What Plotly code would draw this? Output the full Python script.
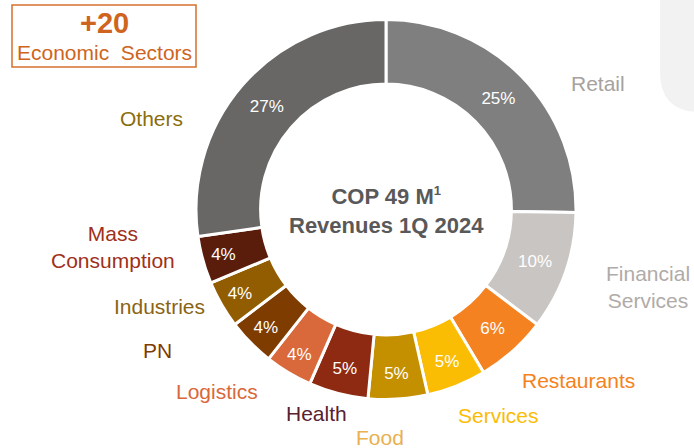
import plotly.graph_objects as go

categories = ["Retail", "Financial Services", "Restaurants", "Services", "Food", "Health",
              "Logistics", "PN", "Industries", "Mass Consumption", "Others"]
shares = [25, 10, 6, 5, 5, 5, 4, 4, 4, 4, 27]
slice_colors = ["#7f7f7f", "#c9c5c2", "#f58220", "#fbbc04", "#c49000", "#8f2a12",
                "#d9683a", "#7f3c00", "#925d00", "#5a1d0b", "#686766"]
label_text = ["Retail", "Financial<br>Services", "Restaurants", "Services", "Food", "Health",
              "Logistics", "PN", "Industries", "Mass<br>Consumption", "Others"]
label_colors = ["#a5a2a0", "#b0aba8", "#f58220", "#fbbc04", "#e9b04f", "#5a2030",
                "#d9683a", "#7f3c00", "#8a6414", "#a0301a", "#8a6d0b"]
label_xy = [(598, 83), (648, 287), (578, 380), (499, 415), (380, 437), (316, 413),
            (217, 391), (157, 350), (159, 306), (113, 247), (151, 118)]

W, H = 694, 448
cx, cy, r = 386, 209.5, 190

fig = go.Figure()
fig.add_trace(go.Pie(
    labels=categories, values=shares, sort=False, direction="clockwise", rotation=0,
    hole=0.66,
    text=[f"{v}%" for v in shares], textinfo="text", textposition="inside",
    insidetextorientation="horizontal",
    textfont=dict(family="Liberation Sans, Arial", size=17, color="white"),
    marker=dict(colors=slice_colors, line=dict(color="white", width=3)),
    domain=dict(x=[(cx - r) / W, (cx + r) / W], y=[1 - (cy + r) / H, 1 - (cy - r) / H]),
    showlegend=False, hoverinfo="label+text",
))

for t, c, (x, y) in zip(label_text, label_colors, label_xy):
    fig.add_annotation(x=x / W, y=1 - y / H, xref="paper", yref="paper", text=t,
                       showarrow=False, font=dict(family="Liberation Sans, Arial", size=21, color=c),
                       xanchor="center", yanchor="middle", align="center")

fig.add_annotation(x=cx / W, y=1 - 211 / H, xref="paper", yref="paper",
                   text="<b>COP 49 M<sup><span style='font-size:13px'>1</span></sup></b><br><b>Revenues 1Q 2024</b>",
                   showarrow=False, font=dict(family="Liberation Sans, Arial", size=22, color="#595959"),
                   xanchor="center", yanchor="middle", align="center")

# top-left box
fig.add_shape(type="rect", xref="paper", yref="paper",
              x0=12 / W, x1=196 / W, y0=1 - 67 / H, y1=1 - 5 / H,
              line=dict(color="#d5702c", width=1.5), fillcolor="rgba(0,0,0,0)")
fig.add_annotation(x=104 / W, y=1 - 23 / H, xref="paper", yref="paper", text="<b>+20</b>",
                   showarrow=False, font=dict(family="Liberation Sans, Arial", size=29, color="#cf6420"),
                   xanchor="center", yanchor="middle")
fig.add_annotation(x=104 / W, y=1 - 53 / H, xref="paper", yref="paper", text="Economic  Sectors",
                   showarrow=False, font=dict(family="Liberation Sans, Arial", size=21, color="#cf6420"),
                   xanchor="center", yanchor="middle")

# right light panel
x0p, y1p, rad = 660, 112, 40
path = (f"M {x0p/W},1 L {x0p/W},{1-(y1p-rad)/H} "
        f"Q {x0p/W},{1-y1p/H} {(x0p+rad)/W},{1-y1p/H} L 1.01,{1-y1p/H} L 1.01,1 Z")
fig.add_shape(type="path", xref="paper", yref="paper", path=path,
              fillcolor="#f2f2f2", line=dict(width=0), layer="below")

fig.update_layout(width=W, height=H, margin=dict(l=0, r=0, t=0, b=0),
                  paper_bgcolor="white", plot_bgcolor="white")
fig.write_html("out.html", config={"displayModeBar": False},
               post_script="document.body.style.margin='0px';")
